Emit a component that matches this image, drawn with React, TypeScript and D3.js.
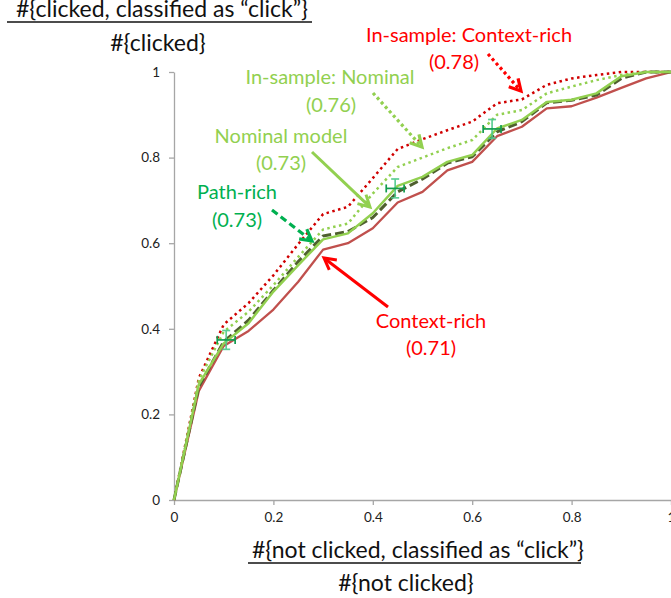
import React, { useRef, useEffect } from "react";
import * as d3 from "d3";

// false positive rate steps (x)
const fpr = [0, 0.05, 0.1, 0.15, 0.2, 0.25, 0.3, 0.35, 0.4, 0.45, 0.5, 0.55, 0.6, 0.65, 0.7, 0.75, 0.8, 0.85, 0.9, 0.95, 1];

// true positive rate per model (y)
const contextRich = [0, 0.255, 0.36, 0.395, 0.445, 0.51, 0.585, 0.6, 0.635, 0.695, 0.72, 0.77, 0.79, 0.85, 0.872, 0.915, 0.92, 0.94, 0.963, 0.985, 1];
const nominalModel = [0, 0.27, 0.366, 0.413, 0.487, 0.549, 0.609, 0.623, 0.67, 0.734, 0.755, 0.79, 0.806, 0.868, 0.888, 0.93, 0.935, 0.95, 0.99, 1, 1];
const pathRich = [0, 0.265, 0.37, 0.42, 0.49, 0.557, 0.617, 0.627, 0.66, 0.72, 0.75, 0.787, 0.802, 0.86, 0.884, 0.928, 0.934, 0.946, 0.985, 1, 1];
const inSampleNominal = [0, 0.28, 0.393, 0.44, 0.502, 0.568, 0.632, 0.646, 0.716, 0.778, 0.8, 0.822, 0.841, 0.9, 0.911, 0.95, 0.966, 0.981, 0.993, 1, 1];
const inSampleContext = [0, 0.285, 0.41, 0.46, 0.525, 0.598, 0.668, 0.685, 0.752, 0.82, 0.843, 0.864, 0.884, 0.927, 0.936, 0.97, 0.985, 0.993, 1, 1, 1];

// error bars on the path-rich curve
const errX = [0.105, 0.445, 0.64];
const errY = [0.374, 0.728, 0.867];
const errDx = [0.018, 0.018, 0.018];
const errDy = [0.022, 0.022, 0.022];

const ticks = [0, 0.2, 0.4, 0.6, 0.8, 1];

const FONT = "Lato, 'Open Sans', sans-serif";
const RED = "#ff0000";
const LIGHT_GREEN = "#92d050";
const TEAL = "#00b050";

const App = () => {
  const svgRef = useRef(null);

  useEffect(() => {
    const svg = d3.select(svgRef.current);
    svg.selectAll("*").remove();

    const x = d3.scaleLinear().domain([0, 1]).range([174, 671]);
    const y = d3.scaleLinear().domain([0, 1]).range([500, 72]);

    // axes
    const xAxis = d3.axisBottom(x).tickValues(ticks).tickFormat(d3.format("~g")).tickSize(5).tickSizeOuter(0).tickPadding(7);
    const yAxis = d3.axisLeft(y).tickValues(ticks).tickFormat(d3.format("~g")).tickSize(5).tickSizeOuter(0).tickPadding(9);

    const gx = svg.append("g").attr("transform", "translate(0,500)").call(xAxis);
    const gy = svg.append("g").attr("transform", "translate(174,0)").call(yAxis);
    [gx, gy].forEach(g => {
      g.selectAll("path, line").attr("stroke", "#a6a6a6").attr("stroke-width", 1.3);
      g.selectAll("text").attr("font-family", FONT).attr("font-size", 13.5).attr("fill", "#222");
    });

    // curves
    const series = [
      { values: contextRich, color: "#c0504d", width: 2.3, dash: null },
      { values: inSampleContext, color: "#d00000", width: 2.5, dash: "2.5,3.5" },
      { values: inSampleNominal, color: LIGHT_GREEN, width: 2.5, dash: "2.5,3.5" },
      { values: pathRich, color: "#4f5f2f", width: 3, dash: "9,4" },
      { values: nominalModel, color: LIGHT_GREEN, width: 2.5, dash: null }
    ];

    const myLine = d3.line<number>()
      .x((_, i) => x(fpr[i]))
      .y(v => y(v));

    svg
      .append("g")
      .selectAll("path")
      .data(series)
      .join("path")
      .attr("d", s => myLine(s.values))
      .attr("fill", "none")
      .attr("stroke", s => s.color)
      .attr("stroke-width", s => s.width)
      .attr("stroke-dasharray", s => s.dash)
      .attr("stroke-linejoin", "round");

    // error bars
    const eg = svg.append("g");
    errX.forEach((ex, i) => {
      const cx = x(ex), cy = y(errY[i]);
      const x0 = x(ex - errDx[i]), x1 = x(ex + errDx[i]);
      const y0 = y(errY[i] - errDy[i]), y1 = y(errY[i] + errDy[i]);
      const v = eg.append("g").attr("stroke", "#4cc98b").attr("stroke-width", 1.7).attr("opacity", 0.9);
      v.append("line").attr("x1", cx).attr("x2", cx).attr("y1", y0).attr("y2", y1);
      v.append("line").attr("x1", cx - 4).attr("x2", cx + 4).attr("y1", y0).attr("y2", y0);
      v.append("line").attr("x1", cx - 4).attr("x2", cx + 4).attr("y1", y1).attr("y2", y1);
      const h = eg.append("g").attr("stroke", "#119c4f").attr("stroke-width", 1.7);
      h.append("line").attr("x1", x0).attr("x2", x1).attr("y1", cy).attr("y2", cy);
      h.append("line").attr("x1", x0).attr("x2", x0).attr("y1", cy - 4).attr("y2", cy + 4);
      h.append("line").attr("x1", x1).attr("x2", x1).attr("y1", cy - 4).attr("y2", cy + 4);
    });

    // annotation arrows
    const arrow = (x1, y1, x2, y2, color, width, dash) => {
      const g = svg.append("g").attr("stroke", color).attr("fill", "none").attr("stroke-width", width);
      const ang = Math.atan2(y2 - y1, x2 - x1);
      g.append("line")
        .attr("x1", x1).attr("y1", y1)
        .attr("x2", x2 - Math.cos(ang) * 2).attr("y2", y2 - Math.sin(ang) * 2)
        .attr("stroke-dasharray", dash);
      const len = 13, spread = 0.5;
      g.append("path")
        .attr("d", `M${x2 - len * Math.cos(ang - spread)},${y2 - len * Math.sin(ang - spread)}L${x2},${y2}L${x2 - len * Math.cos(ang + spread)},${y2 - len * Math.sin(ang + spread)}`)
        .attr("stroke-linejoin", "miter");
    };
    arrow(488, 54, 521, 91, RED, 3.2, "3,3");
    arrow(373, 93, 422, 147, LIGHT_GREEN, 3.2, "3,3");
    arrow(312, 152, 370, 207, LIGHT_GREEN, 3, null);
    arrow(272, 210, 312, 241, TEAL, 3.2, "7,4");
    arrow(388, 307, 324, 258, RED, 3, null);

    // annotation labels
    const labels = [
      { text: "In-sample: Context-rich", x: 469, y: 35, color: RED },
      { text: "(0.78)", x: 454, y: 62, color: RED },
      { text: "In-sample: Nominal", x: 330, y: 77, color: LIGHT_GREEN },
      { text: "(0.76)", x: 331, y: 105, color: LIGHT_GREEN },
      { text: "Nominal model", x: 281, y: 136, color: LIGHT_GREEN },
      { text: "(0.73)", x: 281, y: 163, color: LIGHT_GREEN },
      { text: "Path-rich", x: 237, y: 192, color: TEAL },
      { text: "(0.73)", x: 237, y: 220, color: TEAL },
      { text: "Context-rich", x: 431, y: 321, color: RED },
      { text: "(0.71)", x: 431, y: 348, color: RED }
    ];
    svg
      .append("g")
      .selectAll("text")
      .data(labels)
      .join("text")
      .attr("x", d => d.x)
      .attr("y", d => d.y)
      .attr("dy", "0.35em")
      .attr("text-anchor", "middle")
      .attr("font-family", FONT)
      .attr("font-size", 20)
      .attr("fill", d => d.color)
      .text(d => d.text);

    // axis titles as fractions
    const frac = (num, den, cx, yNum, yLine, yDen, lx0, lx1, denCx) => {
      const g = svg.append("g").attr("font-family", FONT).attr("font-size", 23).attr("fill", "#111").attr("text-anchor", "middle");
      g.append("text").attr("x", cx).attr("y", yNum).attr("dy", "0.35em").text(num);
      g.append("line").attr("x1", lx0).attr("x2", lx1).attr("y1", yLine).attr("y2", yLine).attr("stroke", "#111").attr("stroke-width", 1.3);
      g.append("text").attr("x", denCx).attr("y", yDen).attr("dy", "0.35em").text(den);
    };
    frac("#{clicked, classified as \u201cclick\u201d}", "#{clicked}", 162, 9, 22, 43, 7, 312, 158);
    frac("#{not clicked, classified as \u201cclick\u201d}", "#{not clicked}", 418, 550, 563, 583, 248, 581, 406);
  }, []);

  return (
    <svg
      ref={svgRef}
      width={671}
      height={598}
      style={{ position: "absolute", left: 0, top: 0, background: "#fff" }}
    />
  );
};

export default App;
